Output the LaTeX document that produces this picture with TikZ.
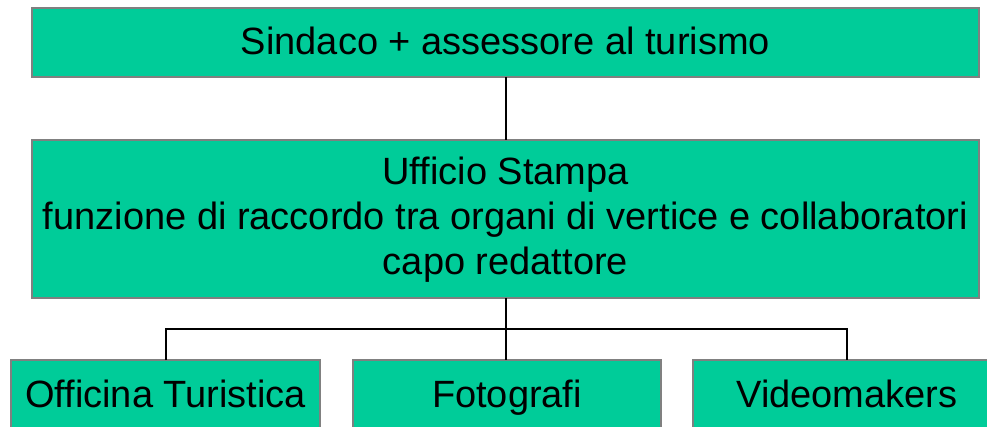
\documentclass[tikz,border=0pt]{standalone}
\usepackage{fontspec}
\setmainfont{Liberation Sans}
\definecolor{boxfill}{RGB}{0,204,153}
\definecolor{boxline}{RGB}{128,128,128}
\begin{document}
\begin{tikzpicture}[x=1pt,y=-1pt,
  box/.style={draw=boxline, fill=boxfill, line width=2pt, inner sep=0pt, outer sep=0pt},
  lbl/.style={font=\fontsize{38}{45}\selectfont, inner sep=0pt, anchor=base, align=center},
  conn/.style={draw=black, line width=2pt}]
\useasboundingbox (0,0) rectangle (987,427);
\begin{scope}
\clip (0,0) rectangle (987,427);
\node[box, minimum width=947pt, minimum height=69pt] (top) at (505.5,42.5) {};
\node[box, minimum width=947pt, minimum height=158pt] (mid) at (505.5,219) {};
\node[box, minimum width=309pt, minimum height=69pt] (off) at (165.5,394.5) {};
\node[box, minimum width=308pt, minimum height=69pt] (fot) at (507,394.5) {};
\node[box, minimum width=308pt, minimum height=69pt] (vid) at (847,394.5) {};
\draw[conn] (top.south) -- (mid.north);
\draw[conn] (mid.south) -- (mid.south |- fot.north);
\draw[conn] (off.north) -- ++(0,-31) -| (vid.north);
\node[lbl] (ttop) at (505.5,55) {Sindaco + assessore al turismo};
\node[lbl] (tmid) at (505.5,275) {Ufficio Stampa\\funzione di raccordo tra organi di vertice e collaboratori\\capo redattore};
\node[lbl] (toff) at (165.5,407) {Officina Turistica};
\node[lbl] (tfot) at (507,407) {Fotografi};
\node[lbl] (tvid) at (847,407) {Videomakers};
\end{scope}
\end{tikzpicture}
\end{document}
